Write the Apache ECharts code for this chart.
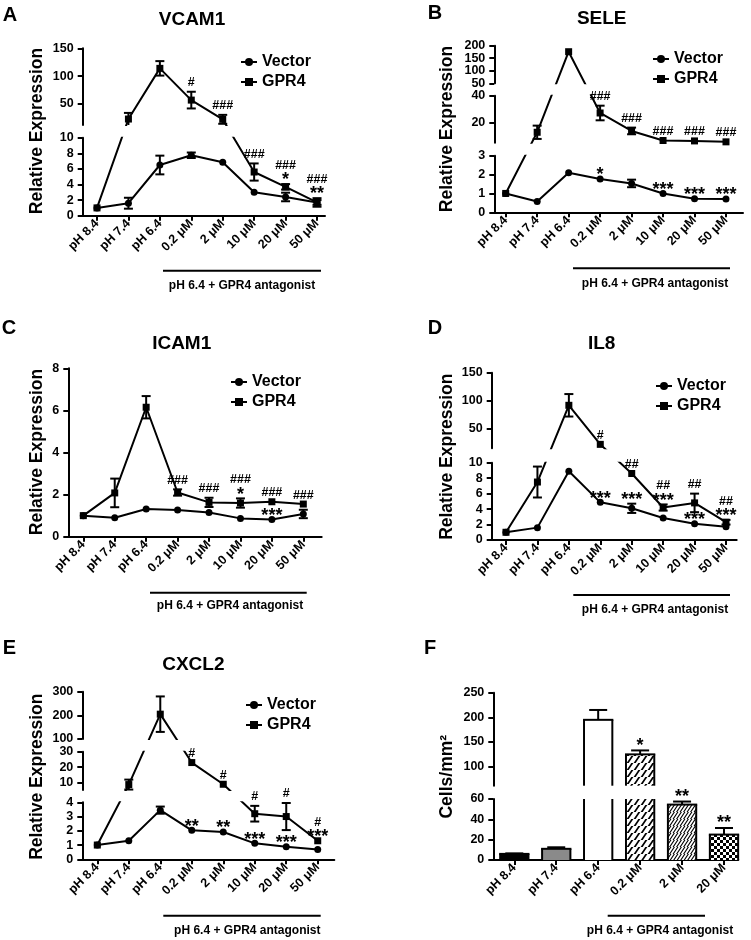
<!DOCTYPE html>
<html><head><meta charset="utf-8">
<script src="https://cdn.jsdelivr.net/npm/echarts@6/dist/echarts.min.js"></script>
<style>html,body{margin:0;padding:0;background:#fff}#c{width:751px;height:940px}</style>
</head><body><div id="c"></div>
<script>
// ---------------- DATA ----------------
const categories = ['pH 8.4','pH 7.4','pH 6.4','0.2 μM','2 μM','10 μM','20 μM','50 μM'];
const barCategories = ['pH 8.4','pH 7.4','pH 6.4','0.2 μM','2 μM','20 μM'];

const vcam1Vector    = [1.0, 1.6, 6.5, 7.75, 6.85, 3.0, 2.4, 1.7];
const vcam1VectorSem = [0, 0.7, 1.2, 0.35, 0, 0, 0.55, 0.3];
const vcam1Gpr4      = [1.0, 23, 114, 57, 22.5, 5.6, 3.7, 1.7];
const vcam1Gpr4Sem   = [0, 11, 13, 15, 8, 1.1, 0.35, 0.55];
const vcam1Hash = ['', '', '', '#', '###', '###', '###', '###'];
const vcam1Star = ['', '', '', '', '', '', '*', '**'];
const vcam1StarOn = ['', '', '', '', '', '', 'g', 'g'];

const seleVector    = [1.0, 0.57, 2.1, 1.77, 1.53, 1.0, 0.72, 0.70];
const seleVectorSem = [0, 0, 0, 0, 0.2, 0, 0, 0];
const seleGpr4      = [1.0, 12.5, 176, 27, 13.5, 6.3, 6.0, 5.3];
const seleGpr4Sem   = [0, 5, 0, 5.5, 2.5, 0, 0, 0];
const seleHash = ['', '', '', '###', '###', '###', '###', '###'];
const seleStar = ['', '', '', '*', '', '***', '***', '***'];
const seleStarOn = ['', '', '', 'v', '', 'v', 'v', 'v'];

const icam1Vector    = [1.0, 0.9, 1.32, 1.27, 1.15, 0.87, 0.82, 1.08];
const icam1VectorSem = [0, 0, 0, 0, 0, 0, 0, 0.2];
const icam1Gpr4      = [1.0, 2.08, 6.15, 2.1, 1.63, 1.6, 1.66, 1.55];
const icam1Gpr4Sem   = [0, 0.68, 0.53, 0.15, 0.22, 0.22, 0, 0];
const icam1Hash = ['', '', '', '###', '###', '###', '###', '###'];
const icam1Star = ['', '', '', '', '', '*', '***', ''];
const icam1StarOn = ['', '', '', '', '', 'g', 'v', ''];

const il8Vector    = [1.0, 1.6, 8.9, 4.87, 4.1, 2.85, 2.1, 1.72];
const il8VectorSem = [0, 0, 0, 0, 0.6, 0, 0, 0];
const il8Gpr4      = [1.0, 7.5, 92, 22.5, 8.6, 4.2, 4.8, 2.3];
const il8Gpr4Sem   = [0, 2.0, 20, 0, 0, 0.4, 1.2, 0.3];
const il8Hash = ['', '', '', '#', '##', '##', '##', '##'];
const il8Star = ['', '', '', '***', '***', '***', '***', '***'];
const il8StarOn = ['', '', '', 'v', 'v', 'g', 'v', 'g'];

const cxcl2Vector    = [1.0, 1.3, 3.45, 2.03, 1.92, 1.12, 0.88, 0.68];
const cxcl2VectorSem = [0, 0, 0.25, 0, 0, 0, 0, 0];
const cxcl2Gpr4      = [1.0, 8.8, 205, 23, 9, 3.2, 3.0, 1.3];
const cxcl2Gpr4Sem   = [0, 3.2, 75, 0, 0, 0.55, 0.95, 0];
const cxcl2Hash = ['', '', '', '#', '#', '#', '#', '#'];
const cxcl2Star = ['', '', '', '**', '**', '***', '***', '***'];
const cxcl2StarOn = ['', '', '', 'v', 'v', 'v', 'v', 'g'];

const adhesion    = [6, 11, 195, 125, 54.5, 25];
const adhesionSem = [0.5, 1.5, 20, 8, 3, 6.5];
const adhesionStar = ['', '', '', '*', '**', '**'];

const vcam1Ticks = [[0,2,4,6,8,10],[50,100,150]];
const seleTicks  = [[0,1,2,3],[20,40],[50,100,150,200]];
const icam1Ticks = [[0,2,4,6,8]];
const il8Ticks   = [[0,2,4,6,8,10],[50,100,150]];
const cxcl2Ticks = [[0,1,2,3,4],[10,20,30],[100,200,300]];
const adhesionTicks = [[0,20,40,60],[100,150,200,250]];

// ---------------- LAYOUT / STYLE ----------------
const FONT = '"Liberation Sans", Arial, Helvetica, sans-serif';
const H = 940;
const BLACK = '#000';

const panels = [
  {letter:'A', title:'VCAM1', vec:vcam1Vector, vecE:vcam1VectorSem, gpr:vcam1Gpr4, gprE:vcam1Gpr4Sem,
   hash:vcam1Hash, star:vcam1Star, starOn:vcam1StarOn, ticks:vcam1Ticks,
   axisX:82.7, xRight:325, c0:97, sp:31.43,
   segs:[{min:0,max:10,y0:215.7,y1:137.7},{min:12.3,max:150,y0:125,y1:48.3}],
   titleXY:[192,20], letterXY:[10,15], legendXY:[240,54], ylabelXY:[37.5,131], under:[163,321,270.7], underText:[242,285.7]},
  {letter:'B', title:'SELE', vec:seleVector, vecE:seleVectorSem, gpr:seleGpr4, gprE:seleGpr4Sem,
   hash:seleHash, star:seleStar, starOn:seleStarOn, ticks:seleTicks,
   axisX:494.3, xRight:743, c0:505.7, sp:31.47,
   segs:[{min:0,max:3,y0:212.3,y1:155.7},{min:4.66,max:40,y0:142.7,y1:95.7},{min:50,max:200,y0:83.3,y1:45.7}],
   titleXY:[601.7,18.3], letterXY:[435,13], legendXY:[652,51], ylabelXY:[446.7,129], under:[573,730,268.3], underText:[655,283.3]},
  {letter:'C', title:'ICAM1', vec:icam1Vector, vecE:icam1VectorSem, gpr:icam1Gpr4, gprE:icam1Gpr4Sem,
   hash:icam1Hash, star:icam1Star, starOn:icam1StarOn, ticks:icam1Ticks,
   axisX:68.3, xRight:321.7, c0:83.3, sp:31.43,
   segs:[{min:0,max:8,y0:536.7,y1:368.3}],
   titleXY:[181.7,343.3], letterXY:[9,328], legendXY:[230,374], ylabelXY:[37.3,452], under:[150,306.7,592.7], underText:[230,606]},
  {letter:'D', title:'IL8', vec:il8Vector, vecE:il8VectorSem, gpr:il8Gpr4, gprE:il8Gpr4Sem,
   hash:il8Hash, star:il8Star, starOn:il8StarOn, ticks:il8Ticks,
   axisX:491.7, xRight:736.7, c0:506, sp:31.43,
   segs:[{min:0,max:10,y0:540,y1:462.7},{min:15.5,max:150,y0:448.3,y1:372.7}],
   titleXY:[601.7,343.3], letterXY:[435,328], legendXY:[655,378], ylabelXY:[446.7,456.7], under:[573.3,730,595], underText:[655,610]},
  {letter:'E', title:'CXCL2', vec:cxcl2Vector, vecE:cxcl2VectorSem, gpr:cxcl2Gpr4, gprE:cxcl2Gpr4Sem,
   hash:cxcl2Hash, star:cxcl2Star, starOn:cxcl2StarOn, ticks:cxcl2Ticks,
   axisX:82.3, xRight:334.3, c0:97.3, sp:31.49,
   segs:[{min:0,max:4,y0:859.3,y1:802.3},{min:5.3,max:30,y0:790,y1:751.7},{min:100,max:300,y0:739,y1:691.7}],
   titleXY:[193.3,665], letterXY:[9.3,648.3], legendXY:[245,697], ylabelXY:[37.3,776.7], under:[163.3,320.7,915.7], underText:[247.3,930.7]}
];
const barPanel = {letter:'F', ticks:adhesionTicks, axisX:493.3, xRight:738.3, c0:514.3, sp:41.94, barW:28.3,
   segs:[{min:0,max:60,y0:860,y1:799},{min:61.5,max:250,y0:785.7,y1:692.7}],
   letterXY:[430,648.3], ylabelXY:[446.7,776.7], under:[607.7,705,915.7], underText:[660,930.7]};

const STAR_SIZE = 18, HASH_SIZE = 12.5;

// ---------------- HELPERS ----------------
function makePx(segs){
  return function(v){
    for (let k=0;k<segs.length;k++){
      const s=segs[k];
      const slope=(s.y0-s.y1)/(s.max-s.min);
      if ((k===0 && v<s.min) || (v>=s.min && v<=s.max)) return s.y0-(v-s.min)*slope;
      const n=segs[k+1];
      if (!n) return s.y0-(v-s.min)*slope;
      if (v>s.max && v<n.min) return s.y1-(v-s.max)/(n.min-s.max)*(s.y1-n.y0);
    }
  };
}
function txt(x,y,text,size,extra){
  const el = {type:'text', x:x, y:y, silent:true, z:100,
    style:{text:text, fontSize:size, fontWeight:'bold', fontFamily:FONT, fill:BLACK,
           align:'center', verticalAlign:'middle', textAlign:'center', textVerticalAlign:'middle'}};
  return Object.assign(el, extra||{});
}
function hline(x1,x2,y){
  return {type:'line', silent:true, z:100, shape:{x1:x1,y1:y,x2:x2,y2:y}, style:{stroke:BLACK, lineWidth:2}};
}
function markText(x, y, text, size){
  return {type:'text', x:x, y:y, style:{text:text, fontSize:size, fontWeight:'bold', fontFamily:FONT, fill:BLACK, align:'center', verticalAlign:'middle'}};
}
const lbl = {fontSize:12.5, fontWeight:'bold', fontFamily:FONT, color:BLACK};
const axLine = {show:true, onZero:false, lineStyle:{color:BLACK, width:2}};

const grids=[], xAxes=[], yAxes=[], series=[], legends=[], graphics=[];

function tickFormatter(tk, tkD){
  return function(v){
    let best=0, bd=1e9;
    tkD.forEach((d,j)=>{ if(Math.abs(d-v)<bd){bd=Math.abs(d-v);best=j;} });
    return String(tk[best]);
  };
}

function buildAxes(P, cats, yTicks, dOf){
  const idx = cats.map((c,i)=>i);
  const xMin = (P.axisX - P.c0)/P.sp;
  const xMax = (P.xRight - P.c0)/P.sp;
  const out = [];
  P.segs.forEach((s,k)=>{
    const gi = grids.length;
    grids.push({left:P.axisX, top:s.y1, width:P.xRight-P.axisX, height:s.y0-s.y1, containLabel:false, outerBoundsMode:'none'});
    const xi = xAxes.length;
    xAxes.push({gridIndex:gi, type:'value', min:xMin, max:xMax, show:k===0,
      axisLine:axLine, splitLine:{show:false},
      axisTick:{show:true, customValues:idx, length:5, lineStyle:{color:BLACK,width:2}},
      axisLabel:Object.assign({customValues:idx, rotate:45, margin:6, hideOverlap:false,
        formatter:v=>cats[Math.round(v)]}, lbl)});
    const tk = yTicks[k];
    const tkD = tk.map(dOf);
    // if labels are tightly packed, spread them over two coincident axes so none is hidden
    let minGap = 1e9;
    for (let j=1;j<tkD.length;j++) minGap = Math.min(minGap, Math.abs(tkD[j]-tkD[j-1]));
    const split = minGap < 16;
    const mainLabels = split ? tkD.filter((d,j)=>j%2===0) : tkD;
    const yi = yAxes.length;
    yAxes.push({gridIndex:gi, type:'value', min:H-s.y0, max:H-s.y1,
      axisLine:axLine, splitLine:{show:false},
      axisTick:{show:true, customValues:tkD, length:5, lineStyle:{color:BLACK,width:2}},
      axisLabel:Object.assign({customValues:mainLabels, margin:9, hideOverlap:false,
        formatter:tickFormatter(tk, tkD)}, lbl)});
    if (split){
      yAxes.push({gridIndex:gi, type:'value', min:H-s.y0, max:H-s.y1, position:'left', offset:0,
        axisLine:{show:false, onZero:false}, splitLine:{show:false}, axisTick:{show:false},
        axisLabel:Object.assign({customValues:tkD.filter((d,j)=>j%2===1), margin:9, hideOverlap:false,
          formatter:tickFormatter(tk, tkD)}, lbl)});
    }
    out.push({gi:gi, xi:xi, yi:yi});
  });
  return out;
}

function errRender(params, api){
  const i = api.value(0);
  const lo = api.coord([i, api.value(1)]);
  const hi = api.coord([i, api.value(2)]);
  const cs = params.coordSys;
  const top = cs.y, bot = cs.y + cs.height;
  const y1 = Math.max(hi[1], top), y2 = Math.min(lo[1], bot);
  if (y1 >= y2) return null;
  const x = lo[0], cw = 4.5;
  const st = {stroke:BLACK, lineWidth:2};
  const ch = [{type:'line', shape:{x1:x,y1:y1,x2:x,y2:y2}, style:st}];
  if (hi[1] >= top-0.5 && hi[1] <= bot+0.5) ch.push({type:'line', shape:{x1:x-cw,y1:hi[1],x2:x+cw,y2:hi[1]}, style:st});
  if (lo[1] >= top-0.5 && lo[1] <= bot+0.5) ch.push({type:'line', shape:{x1:x-cw,y1:lo[1],x2:x+cw,y2:lo[1]}, style:st});
  return {type:'group', children:ch};
}

// ---------------- LINE PANELS ----------------
panels.forEach(P=>{
  const px = makePx(P.segs);
  const dOf = v => H - px(v);
  const ax = buildAxes(P, categories, P.ticks, dOf);
  ax.forEach(a=>{
    const common = {xAxisIndex:a.xi, yAxisIndex:a.yi};
    [[P.vec,P.vecE,'Vector','circle'],[P.gpr,P.gprE,'GPR4','rect']].forEach(([vals,errs,name,sym])=>{
      series.push(Object.assign({type:'custom', name:name+' SEM', coordinateSystem:'cartesian2d', silent:true,
        encode:{x:0, y:[1,2]}, renderItem:errRender, z:2,
        data: vals.map((v,i)=>[i, dOf(v-errs[i]), dOf(v+errs[i])]).filter((d,i)=>errs[i]>0)}, common));
      series.push(Object.assign({type:'line', name:name, symbol:sym, symbolSize:7, showSymbol:true, clip:true, z:3,
        lineStyle:{color:BLACK,width:2}, itemStyle:{color:BLACK}, emphasis:{disabled:true},
        data: vals.map((v,i)=>[i, dOf(v)])}, common));
    });
  });
  // significance marks
  series.push({type:'custom', name:'marks', coordinateSystem:'cartesian2d', xAxisIndex:ax[0].xi, yAxisIndex:ax[0].yi,
    silent:true, clip:false, z:10, encode:{x:0,y:1},
    data: categories.map((c,i)=>[i, dOf(0)]),
    renderItem:function(params, api){
      const i = api.value(0);
      const x = api.coord([i, dOf(0)])[0];
      const gTop = px(P.gpr[i]+P.gprE[i]);
      const vTop = px(P.vec[i]+P.vecE[i]);
      const ch = [];
      let hashC = gTop - 9;
      if (P.star[i]) {
        const anchor = P.starOn[i]==='g' ? gTop : vTop;
        const sc = anchor - 8;
        ch.push(markText(x, sc + 4.3, P.star[i], STAR_SIZE));
        if (P.starOn[i]==='g') hashC = sc - 10.5;
      }
      if (P.hash[i]) ch.push(markText(x, hashC, P.hash[i], HASH_SIZE));
      return {type:'group', children:ch};
    }});
  legends.push({left:P.legendXY[0], top:P.legendXY[1], orient:'vertical', padding:0, itemGap:4,
    itemWidth:16, itemHeight:10, selectedMode:false, data:['Vector','GPR4'],
    textStyle:{fontSize:16, fontWeight:'bold', fontFamily:FONT, color:BLACK, lineHeight:16}});
  graphics.push(txt(P.letterXY[0], P.letterXY[1], P.letter, 20));
  graphics.push(txt(P.titleXY[0], P.titleXY[1], P.title, 19));
  graphics.push(txt(P.ylabelXY[0], P.ylabelXY[1], 'Relative Expression', 17.5, {rotation:Math.PI/2}));
  graphics.push(hline(P.under[0], P.under[1], P.under[2]));
  graphics.push(txt(P.underText[0], P.underText[1], 'pH 6.4 + GPR4 antagonist', 12));
});

// ---------------- BAR PANEL ----------------
function patternCanvas(kind){
  const c = document.createElement('canvas');
  const g = c.getContext('2d');
  if (kind==='check'){
    c.width=c.height=6; g.fillStyle='#fff'; g.fillRect(0,0,6,6); g.fillStyle='#000';
    g.fillRect(0,0,3,3); g.fillRect(3,3,3,3);
    return c;
  }
  const s = kind==='wide' ? 7 : 3.5;
  const lw = kind==='wide' ? 1.8 : 1.1;
  const n = 7;
  c.width=c.height=n; g.fillStyle='#fff'; g.fillRect(0,0,n,n);
  g.strokeStyle='#000'; g.lineWidth=lw; g.beginPath();
  for (let o=-n; o<=2*n; o+=s){ g.moveTo(o-n, n+n); g.lineTo(o+n, 0-n); }
  g.stroke();
  return c;
}
const barFills = [BLACK, '#8a8a8a', '#fff',
  {image:patternCanvas('wide'), repeat:'repeat'},
  {image:patternCanvas('dense'), repeat:'repeat'},
  {image:patternCanvas('check'), repeat:'repeat'}];

(function(){
  const P = barPanel;
  const px = makePx(P.segs);
  const dOf = v => H - px(v);
  const ax = buildAxes(P, barCategories, P.ticks, dOf);
  ax.forEach(a=>{
    series.push({type:'custom', name:'Cells', coordinateSystem:'cartesian2d', xAxisIndex:a.xi, yAxisIndex:a.yi,
      silent:true, encode:{x:0, y:[1,2,3]}, z:2,
      data: adhesion.map((v,i)=>[i, dOf(0), dOf(v), dOf(v+adhesionSem[i])]),
      renderItem:function(params, api){
        const i = api.value(0);
        const base = api.coord([i, api.value(1)]);
        const topP = api.coord([i, api.value(2)]);
        const errP = api.coord([i, api.value(3)]);
        const cs = params.coordSys;
        const T = cs.y, B = cs.y + cs.height;
        const x = base[0], w = P.barW, xl = x - w/2, xr = x + w/2;
        const y1 = Math.max(topP[1], T), y2 = Math.min(base[1], B);
        const ch = [];
        const st = {stroke:BLACK, lineWidth:2};
        if (y1 < y2){
          ch.push({type:'rect', shape:{x:xl, y:y1, width:w, height:y2-y1}, style:{fill:barFills[i], lineWidth:0}});
          ch.push({type:'line', shape:{x1:xl,y1:y1,x2:xl,y2:y2}, style:st});
          ch.push({type:'line', shape:{x1:xr,y1:y1,x2:xr,y2:y2}, style:st});
          if (topP[1] >= T) ch.push({type:'line', shape:{x1:xl-1,y1:topP[1],x2:xr+1,y2:topP[1]}, style:st});
        }
        const e1 = Math.max(errP[1], T), e2 = Math.min(topP[1], B);
        if (e1 < e2){
          ch.push({type:'line', shape:{x1:x,y1:e1,x2:x,y2:e2}, style:st});
          if (errP[1] >= T) ch.push({type:'line', shape:{x1:x-9,y1:errP[1],x2:x+9,y2:errP[1]}, style:st});
        }
        return {type:'group', children:ch};
      }});
  });
  series.push({type:'custom', name:'barMarks', coordinateSystem:'cartesian2d', xAxisIndex:ax[0].xi, yAxisIndex:ax[0].yi,
    silent:true, clip:false, z:10, encode:{x:0,y:1},
    data: barCategories.map((c,i)=>[i, dOf(0)]),
    renderItem:function(params, api){
      const i = api.value(0);
      if (!adhesionStar[i]) return null;
      const x = api.coord([i, dOf(0)])[0];
      const anchor = px(adhesion[i]+adhesionSem[i]);
      return markText(x, anchor - 9 + 4.3, adhesionStar[i], STAR_SIZE);
    }});
  graphics.push(txt(P.letterXY[0], P.letterXY[1], P.letter, 20));
  graphics.push(txt(P.ylabelXY[0], P.ylabelXY[1], 'Cells/mm²', 17.5, {rotation:Math.PI/2}));
  graphics.push(hline(P.under[0], P.under[1], P.under[2]));
  graphics.push(txt(P.underText[0], P.underText[1], 'pH 6.4 + GPR4 antagonist', 12));
})();

const chart = echarts.init(document.getElementById('c'), null, {renderer:'canvas', width:751, height:940});
chart.setOption({
  animation:false,
  backgroundColor:'#fff',
  grid:grids, xAxis:xAxes, yAxis:yAxes, series:series, legend:legends,
  graphic:{elements:graphics}
});
</script>
</body></html>
